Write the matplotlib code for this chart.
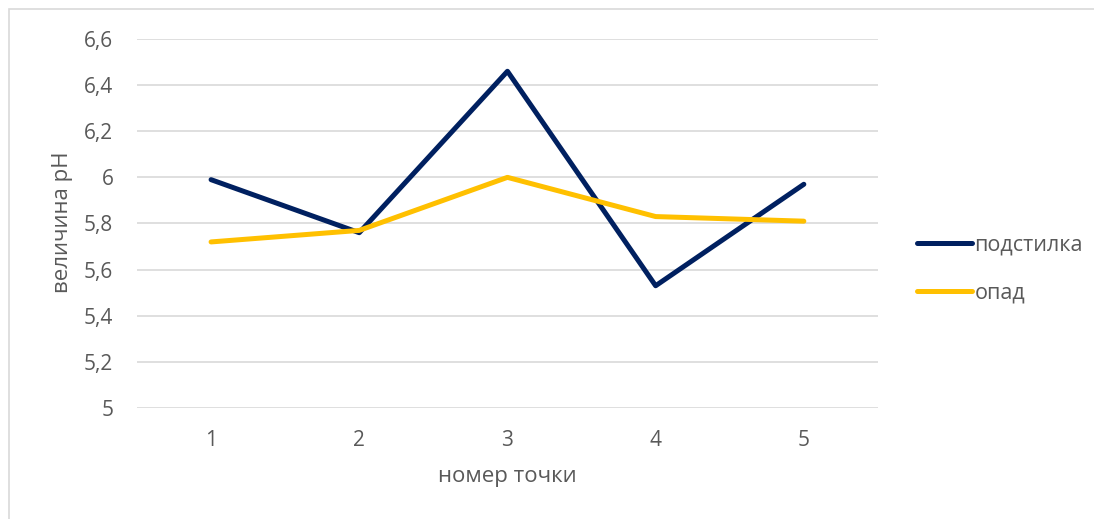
import matplotlib
matplotlib.use("Agg")
import matplotlib.pyplot as plt
from matplotlib.ticker import FixedLocator

points = [1, 2, 3, 4, 5]
podstilka = [5.99, 5.76, 6.46, 5.53, 5.97]
opad = [5.72, 5.77, 6.00, 5.83, 5.81]
y_ticks = [5.0, 5.2, 5.4, 5.6, 5.8, 6.0, 6.2, 6.4, 6.6]
y_labels = ["5", "5,2", "5,4", "5,6", "5,8", "6", "6,2", "6,4", "6,6"]

plt.rcParams['font.family'] = ['Open Sans', 'DejaVu Sans']
txt = "#595959"

fig = plt.figure(figsize=(10.94, 5.19), dpi=100)
ax = fig.add_axes([0.1252, 0.2139, 0.6773, 0.711])

ax.plot(points, podstilka, color="#002060", lw=3.6, label="подстилка", solid_capstyle="round")
ax.plot(points, opad, color="#FFC000", lw=3.6, label="опад", solid_capstyle="round")

ax.set_xlim(0.5, 5.5)
ax.set_ylim(5.0, 6.6)
ax.yaxis.set_major_locator(FixedLocator(y_ticks))
ax.set_yticklabels(y_labels)
ax.set_xticks(points)
ax.set_xticklabels([str(p) for p in points])
ax.grid(axis="y", color="#D9D9D9", lw=1.2)
ax.set_axisbelow(True)
for s in ax.spines.values():
    s.set_visible(False)
ax.tick_params(length=0, labelsize=15, colors=txt)
ax.tick_params(axis="x", pad=16)
ax.tick_params(axis="y", pad=17)

fig.text(0.0567, 0.572, "величина pH", rotation=90, ha="center", va="center", fontsize=16, color=txt)
fig.text(0.4634, 0.081, "номер точки", ha="center", va="center", fontsize=16, color=txt)

leg = fig.legend(loc="upper left", bbox_to_anchor=(0.838, 0.548), frameon=False,
                 fontsize=15.5, labelcolor=txt, handlelength=2.55, handletextpad=0.13,
                 labelspacing=1.25, borderpad=0, borderaxespad=0)

border = plt.Rectangle((0.0085, -0.01), 1.0, 0.993, transform=fig.transFigure,
                       fill=False, edgecolor="#D9D9D9", lw=1.2)
fig.patches.append(border)

fig.savefig("out.png", dpi=100)
